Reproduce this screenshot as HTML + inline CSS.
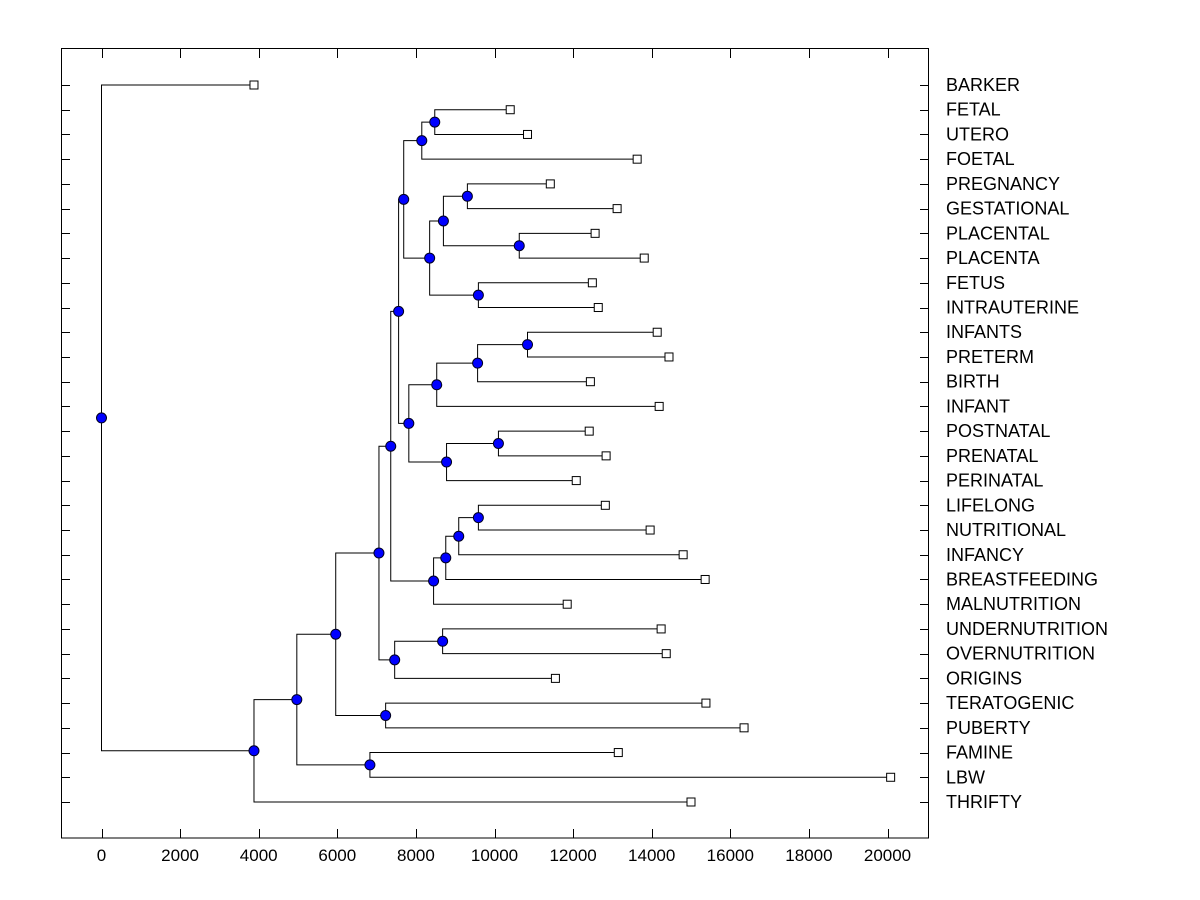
<!DOCTYPE html>
<html><head><meta charset="utf-8"><style>
html,body{margin:0;padding:0;background:#fff;}
svg{display:block;font-family:"Liberation Sans",Arial,sans-serif;}
text{text-rendering:optimizeSpeed;}
</style></head><body>
<svg id="chart" width="1200" height="900" xmlns="http://www.w3.org/2000/svg">
<rect x="61.5" y="48.5" width="867" height="789.5" fill="none" stroke="#000" stroke-width="1"/>
<g id="axes"></g><g id="links"></g><g id="marks"></g><g id="labels"></g>
</svg>
<script>
const leafNames = ["BARKER","FETAL","UTERO","FOETAL","PREGNANCY","GESTATIONAL","PLACENTAL","PLACENTA","FETUS","INTRAUTERINE","INFANTS","PRETERM","BIRTH","INFANT","POSTNATAL","PRENATAL","PERINATAL","LIFELONG","NUTRITIONAL","INFANCY","BREASTFEEDING","MALNUTRITION","UNDERNUTRITION","OVERNUTRITION","ORIGINS","TERATOGENIC","PUBERTY","FAMINE","LBW","THRIFTY"];
const leafValues = [3880,10400,10840,13630,11420,13120,12560,13810,12490,12640,14140,14440,12440,14190,12410,12840,12080,12820,13960,14800,15360,11850,14240,14370,11550,15380,16350,13150,20080,15000];
const nodeChildrenA = ["FETAL","n1","PREGNANCY","PLACENTAL","n3","FETUS","n5","n2","INFANTS","n9","n10","POSTNATAL","n12","n11","n8","LIFELONG","n16","n17","n18","n15","UNDERNUTRITION","n21","n20","TERATOGENIC","n23","FAMINE","n25","n27","BARKER"];
const nodeChildrenB = ["UTERO","FOETAL","GESTATIONAL","PLACENTA","n4","INTRAUTERINE","n6","n7","PRETERM","BIRTH","INFANT","PRENATAL","PERINATAL","n13","n14","NUTRITIONAL","INFANCY","BREASTFEEDING","MALNUTRITION","n19","OVERNUTRITION","ORIGINS","n22","PUBERTY","n24","LBW","n26","THRIFTY","n28"];
const nodeHeights = [8480,8150,9310,10630,8700,9590,8350,7690,10840,9570,8530,10100,8780,7820,7560,9590,9090,8760,8450,7360,8680,7460,7060,7230,5960,6830,4970,3880,0];
const xTicks = [0,2000,4000,6000,8000,10000,12000,14000,16000,18000,20000];

const NS="http://www.w3.org/2000/svg";
const X0=101.5, KX=0.0393, Y0=85, DY=(802-85)/29;
const xs=v=>X0+v*KX;
const ys=i=>Y0+i*DY;
function mk(t,a,p){const e=document.createElementNS(NS,t);for(const k in a)e.setAttribute(k,a[k]);p.appendChild(e);return e;}
const axes=document.getElementById('axes'),links=document.getElementById('links'),marks=document.getElementById('marks'),labels=document.getElementById('labels');

xTicks.forEach(t=>{
  const x=Math.round(xs(t))+0.5;
  let l=mk('line',{x1:x,x2:x,y1:838,y2:829,stroke:'#000'},axes);
  
  
  let l2=mk('line',{x1:x,x2:x,y1:49,y2:58,stroke:'#000'},axes);
  
  
  let tx=mk('text',{x:xs(t),y:861,'font-size':'17','text-anchor':'middle'},axes);
  tx.textContent=t;
  
  
});

const pos={};
leafNames.forEach((n,i)=>{pos[n]={x:xs(leafValues[i]),y:ys(i)};});
nodeHeights.forEach((h,i)=>{
  const a=pos[nodeChildrenA[i]],b=pos[nodeChildrenB[i]];
  const x=xs(h),y=(a.y+b.y)/2;
  pos['n'+(i+1)]={x,y};
  let p=mk('path',{d:`M${a.x},${a.y}H${x}V${b.y}H${b.x}`,fill:'none',stroke:'#000','stroke-width':1},links);
  
  
});
nodeHeights.forEach((h,i)=>{
  const q=pos['n'+(i+1)];
  let c=mk('circle',{cx:q.x,cy:q.y,r:5,fill:'#0000ff',stroke:'#000020','stroke-width':1},marks);
  
  
});
leafNames.forEach((n,i)=>{
  const q=pos[n];
  let r=mk('rect',{x:q.x-4,y:q.y-4,width:8,height:8,fill:'#fff',stroke:'#000'},marks);
  
  
  const yy=Math.round(q.y)+0.5;
  let t1=mk('line',{x1:61,x2:70,y1:yy,y2:yy,stroke:'#000'},axes);
  
  
  let t2=mk('line',{x1:920,x2:929,y1:yy,y2:yy,stroke:'#000'},axes);
  
  
  let tx=mk('text',{x:946,y:q.y+6,'font-size':'18'},labels);
  tx.textContent=n;
  
  
});
</script>
</body></html>
